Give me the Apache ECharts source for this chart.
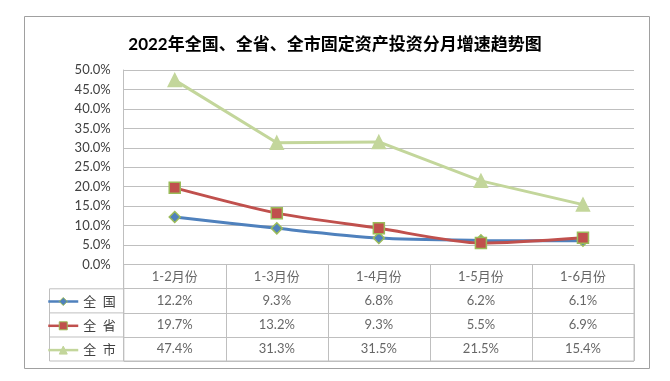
<!DOCTYPE html>
<html><head><meta charset="utf-8">
<script src="https://cdn.jsdelivr.net/npm/echarts@6/dist/echarts.min.js"></script>
<style>html,body{margin:0;padding:0;background:#fff}#c{width:670px;height:381px}</style>
</head><body><div id="c"></div>
<script>
const titleText = '2022年全国、全省、全市固定资产投资分月增速趋势图';
const categories = ['1-2月份','1-3月份','1-4月份','1-5月份','1-6月份'];
const seriesNames = ['全国','全省','全市'];
const legendLabels = ['全\u2002国','全\u2002省','全\u2002市'];
const national = [12.2, 9.3, 6.8, 6.2, 6.1];
const province = [19.7, 13.2, 9.3, 5.5, 6.9];
const city = [47.4, 31.3, 31.5, 21.5, 15.4];
const yTicks = [0,5,10,15,20,25,30,35,40,45,50];

const values = [national, province, city];
const colors = ['#4F81BD', '#C0504D', '#C3D69B'];
const symbols = ['diamond', 'rect', 'triangle'];
const symbolSizes = [11, 11, 13];
const borderColors = ['#9BBB59', '#9BBB59', '#C3D69B'];
const smooths = [0.25, 0.25, false];
const FONT = 'Lato, "Noto Sans CJK SC", sans-serif';
const TXT = '#404040';
const GRIDC = '#BFBFBF';

const rowCats = ['hdr'].concat(seriesNames);

const series = [];
seriesNames.forEach((n, k) => {
  series.push({
    name: n, type: 'line', xAxisIndex: 0, yAxisIndex: 0,
    data: values[k], smooth: smooths[k],
    symbol: symbols[k], symbolSize: symbolSizes[k],
    lineStyle: {color: colors[k], width: 3},
    itemStyle: {color: colors[k], borderColor: borderColors[k], borderWidth: 1.5},
    z: 3 + k
  });
});
series.push({
  type: 'scatter', xAxisIndex: 1, yAxisIndex: 1, symbolSize: 0, silent: true,
  data: categories.map(c => [c, 'hdr', c]),
  label: {show: true, position: 'inside', formatter: p => p.value[2], color: TXT, fontFamily: FONT, fontSize: 13}
});
seriesNames.forEach((n, k) => {
  series.push({
    type: 'scatter', xAxisIndex: 1, yAxisIndex: 1, symbolSize: 0, silent: true,
    data: categories.map((c, i) => [c, n, values[k][i]]),
    label: {show: true, position: 'inside', formatter: p => p.value[2].toFixed(1) + '%', color: TXT, fontFamily: FONT, fontSize: 13}
  });
});

const chart = echarts.init(document.getElementById('c'));
chart.setOption({
  animation: false,
  backgroundColor: '#fff',
  title: {text: titleText, left: 'center', top: 31,
    textStyle: {fontFamily: FONT, fontSize: 17, fontWeight: 'bold', color: '#000'}},
  legend: {
    orient: 'vertical', left: 47, top: 295, itemGap: 11.3, itemWidth: 30, itemHeight: 10,
    padding: 0,
    data: seriesNames,
    formatter: n => legendLabels[seriesNames.indexOf(n)],
    itemStyle: {borderWidth: 1},
    lineStyle: {width: 2.5},
    textStyle: {fontFamily: FONT, fontSize: 13, color: TXT}
  },
  grid: [
    {left: 123.7, right: 36, top: 70, bottom: 116.5, show: false},
    {left: 123.7, right: 36, top: 264.5, bottom: 20, show: true, borderColor: GRIDC, borderWidth: 1}
  ],
  xAxis: [
    {type: 'category', gridIndex: 0, data: categories, boundaryGap: true,
      axisLine: {show: true, lineStyle: {color: GRIDC}}, axisTick: {show: false}, axisLabel: {show: false}},
    {type: 'category', gridIndex: 1, data: categories, boundaryGap: true,
      axisLine: {show: false}, axisTick: {show: false}, axisLabel: {show: false},
      splitLine: {show: true, lineStyle: {color: GRIDC}}}
  ],
  yAxis: [
    {type: 'value', gridIndex: 0, min: yTicks[0], max: yTicks[yTicks.length - 1], interval: 5,
      axisLine: {show: true, lineStyle: {color: GRIDC}}, axisTick: {show: false},
      splitLine: {show: true, lineStyle: {color: GRIDC}},
      axisLabel: {formatter: v => v.toFixed(1) + '%', color: TXT, fontFamily: FONT, fontSize: 13, margin: 13}},
    {type: 'category', gridIndex: 1, data: rowCats, inverse: true, boundaryGap: true,
      axisLine: {show: false}, axisTick: {show: false}, axisLabel: {show: false},
      splitLine: {show: true, lineStyle: {color: GRIDC}}}
  ],
  graphic: [
    {type: 'rect', shape: {x: 24.5, y: 16.5, width: 625, height: 352}, style: {fill: 'none', stroke: '#A0A0A0', lineWidth: 1}, silent: true, z: -1},
    {type: 'rect', shape: {x: 49.5, y: 288.8, width: 74.2, height: 72.2}, style: {fill: 'none', stroke: GRIDC, lineWidth: 1}, silent: true},
    {type: 'line', shape: {x1: 49.5, y1: 312.9, x2: 123.7, y2: 312.9}, style: {stroke: GRIDC, lineWidth: 1}, silent: true},
    {type: 'line', shape: {x1: 49.5, y1: 337, x2: 123.7, y2: 337}, style: {stroke: GRIDC, lineWidth: 1}, silent: true}
  ],
  series: series
});
</script></body></html>
